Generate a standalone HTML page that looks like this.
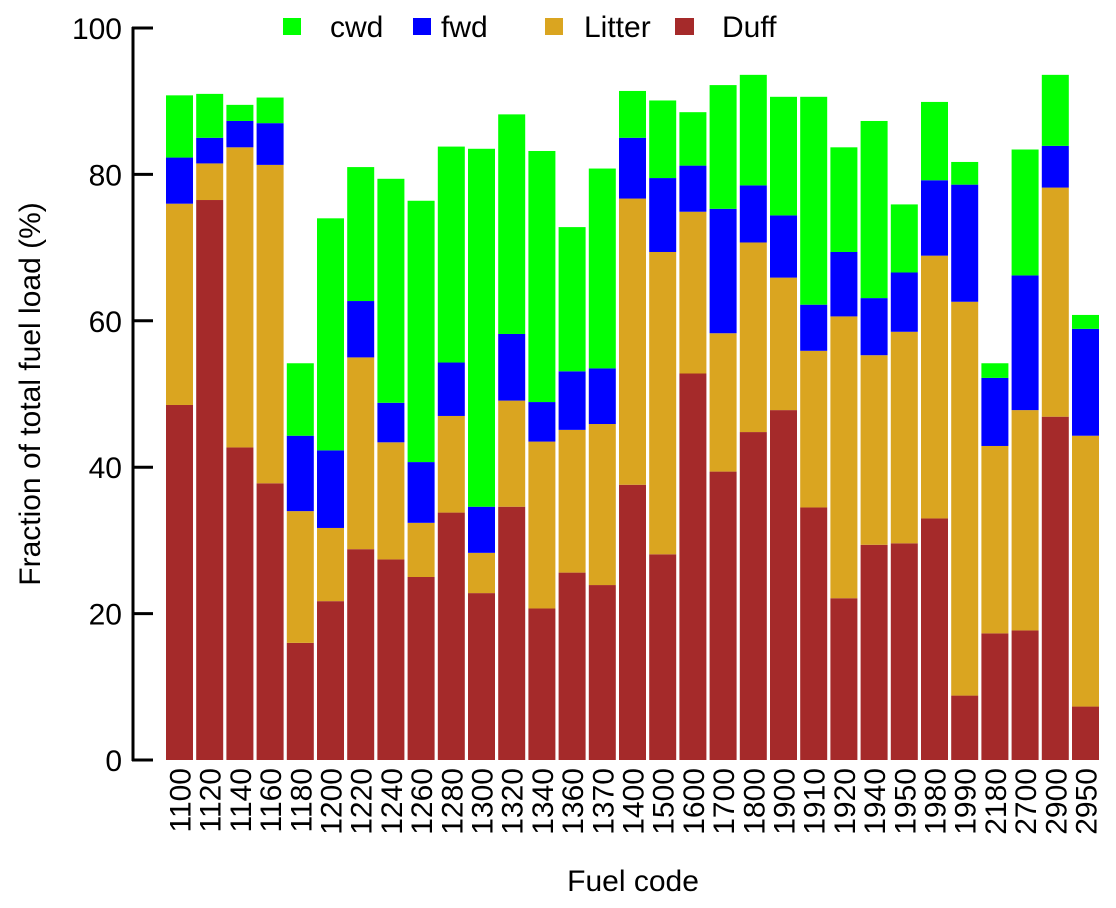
<!DOCTYPE html>
<html><head><meta charset="utf-8"><style>
body{margin:0;background:#fff;}
svg{display:block;font-family:"Liberation Sans",Arial,sans-serif;}
</style></head><body>
<svg id="chart" width="1116" height="908" viewBox="0 0 1116 908">
<g id="bars"></g>
<g id="axes"></g>
<text x="633" y="891" font-size="30" text-anchor="middle">Fuel code</text>
<text transform="translate(40,394) rotate(-90)" font-size="30" text-anchor="middle">Fraction of total fuel load (%)</text>
<g id="legend">
<g><rect x="283" y="18" width="18" height="17" fill="#00ff00"/><text x="330" y="37" font-size="30">cwd</text></g>
<g><rect x="413" y="18" width="18" height="17" fill="#0000ff"/><text x="441" y="37" font-size="30">fwd</text></g>
<g><rect x="545" y="18" width="18" height="17" fill="#daa520"/><text x="584" y="37" font-size="30">Litter</text></g>
<g><rect x="675" y="18" width="19" height="17" fill="#a52a2a"/><text x="722" y="37" font-size="30">Duff</text></g>
</g>
</svg>
<script>
const categories=["1100","1120","1140","1160","1180","1200","1220","1240","1260","1280","1300","1320","1340","1360","1370","1400","1500","1600","1700","1800","1900","1910","1920","1940","1950","1980","1990","2180","2700","2900","2950"];
const duff=[48.5,76.5,42.7,37.8,16.0,21.7,28.8,27.4,25.0,33.8,22.8,34.6,20.7,25.6,23.9,37.6,28.1,52.8,39.4,44.8,47.8,34.5,22.1,29.4,29.6,33.0,8.8,17.3,17.7,46.9,7.3];
const litter=[27.5,5.0,41.0,43.5,18.0,10.0,26.2,16.0,7.4,13.2,5.5,14.5,22.8,19.5,22.0,39.1,41.3,22.1,18.9,25.9,18.1,21.4,38.5,25.9,28.9,35.9,53.8,25.6,30.1,31.3,37.0];
const fwd=[6.3,3.5,3.6,5.7,10.3,10.6,7.7,5.4,8.3,7.3,6.3,9.1,5.4,8.0,7.6,8.3,10.1,6.3,17.0,7.8,8.5,6.3,8.8,7.8,8.1,10.3,16.0,9.3,18.4,5.7,14.6];
const cwd=[8.5,6.0,2.2,3.5,9.9,31.7,18.3,30.6,35.7,29.5,48.9,30.0,34.3,19.7,27.3,6.4,10.6,7.3,16.9,15.1,16.2,28.4,14.3,24.2,9.3,10.7,3.1,2.0,17.2,9.7,1.9];
const yTicks=[0,20,40,60,80,100];
const NS="http://www.w3.org/2000/svg";
const y=v=>760-v*7.32;
const x0=166,pitch=30.2,bw=27;
const xs=i=>x0+i*pitch;
const bars=document.getElementById('bars');
const series=[["duff",duff,"#a52a2a"],["litter",litter,"#daa520"],["fwd",fwd,"#0000ff"],["cwd",cwd,"#00ff00"]];
categories.forEach((c,i)=>{
  let base=0;
  series.forEach(([nm,arr,col])=>{
    const r=document.createElementNS(NS,'rect');
    r.setAttribute('x',xs(i));r.setAttribute('width',bw);
    r.setAttribute('y',y(base+arr[i]));r.setAttribute('height',arr[i]*7.32);
    r.setAttribute('fill',col);
    
    
    bars.appendChild(r);base+=arr[i];
  });
  const t=document.createElementNS(NS,'text');
  t.setAttribute('transform','translate('+(xs(i)+bw/2+11)+',768) rotate(-90)');
  t.setAttribute('text-anchor','end');t.setAttribute('font-size','30');
  t.textContent=c;
  
  
  bars.appendChild(t);
});
const axes=document.getElementById('axes');
const l=document.createElementNS(NS,'line');
l.setAttribute('x1',133);l.setAttribute('x2',133);l.setAttribute('y1',y(100)-1);l.setAttribute('y2',y(0)+1);
l.setAttribute('stroke','#000');l.setAttribute('stroke-width','3');


axes.appendChild(l);
yTicks.forEach(v=>{
  const tk=document.createElementNS(NS,'line');
  tk.setAttribute('x1',132);tk.setAttribute('x2',153);tk.setAttribute('y1',y(v));tk.setAttribute('y2',y(v));
  tk.setAttribute('stroke','#000');tk.setAttribute('stroke-width','3');
  
  
  axes.appendChild(tk);
  const t=document.createElementNS(NS,'text');
  t.setAttribute('x',122);t.setAttribute('y',y(v)+11);t.setAttribute('text-anchor','end');t.setAttribute('font-size','30');
  t.textContent=v;
  
  
  axes.appendChild(t);
});
</script>
</body></html>
